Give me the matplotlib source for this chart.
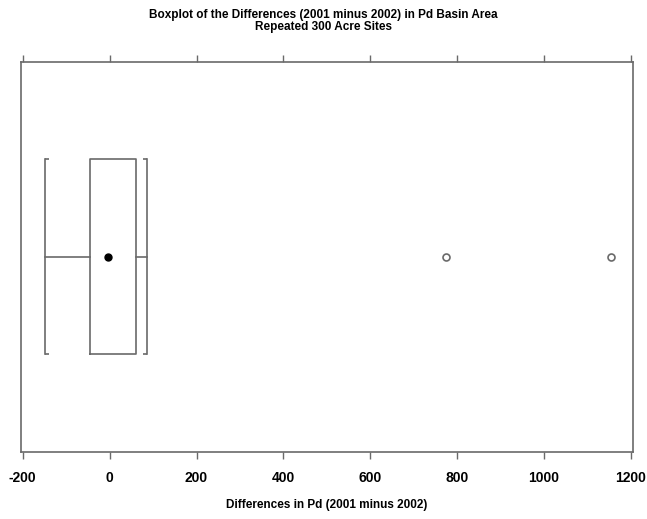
import matplotlib
matplotlib.use("Agg")
import matplotlib.pyplot as plt

# summary values (Pd differences, 2001 minus 2002)
q1, q3 = -45, 60
center = -4
whisker_lo, whisker_hi = -148, 85
outliers = [775, 1155]
xticks = [-200, 0, 200, 400, 600, 800, 1000, 1200]

plt.rcParams['font.family'] = ['Liberation Sans', 'DejaVu Sans']

fig = plt.figure(figsize=(6.47, 5.19), dpi=100)
ax = fig.add_axes([0.032, 0.129, 0.946, 0.752])

grey = "#6a6a6a"
stats = [dict(med=center, q1=q1, q3=q3, whislo=whisker_lo, whishi=whisker_hi,
              mean=center, fliers=outliers)]
parts = ax.bxp(stats, positions=[1], widths=0.5, capwidths=0.5, vert=False,
               showmeans=True,
               boxprops=dict(color=grey, linewidth=1.2),
               whiskerprops=dict(color=grey, linewidth=1.2),
               capprops=dict(color=grey, linewidth=1.2),
               medianprops=dict(visible=False),
               meanprops=dict(marker='o', markerfacecolor='black',
                              markeredgecolor='black', markersize=5),
               flierprops=dict(marker='o', markerfacecolor='white',
                               markeredgecolor=grey, markersize=5,
                               markeredgewidth=1.2))

# little serifs on the caps, turned inward like brackets
for cap, sign in zip(parts['caps'], [1, -1]):
    cap.set_marker([(0, 0), (sign, 0)])
    cap.set_markersize(6)
    cap.set_markeredgecolor(grey)
    cap.set_markeredgewidth(1.2)

ax.set_xlim(-204.6, 1204)
ax.set_ylim(0.5, 1.5)
ax.set_yticks([])
ax.set_xticks(xticks)
ax.set_xticklabels([str(t) for t in xticks])
ax.tick_params(axis='x', top=True, direction='out', length=5,
               color=grey, width=1.0, labelsize=10, pad=9)
for lbl in ax.get_xticklabels():
    lbl.set_fontweight('bold')
for s in ax.spines.values():
    s.set_color(grey)
    s.set_linewidth(1.2)

ax.set_xlabel("Differences in Pd (2001 minus 2002)", fontsize=8.5,
              fontweight='bold', labelpad=10)
fig.text(0.5, 0.96,
         "Boxplot of the Differences (2001 minus 2002) in Pd Basin Area\n"
         "Repeated 300 Acre Sites",
         ha='center', va='center', fontsize=8.5, fontweight='bold',
         linespacing=1.0)

fig.savefig("out.png", dpi=100)
